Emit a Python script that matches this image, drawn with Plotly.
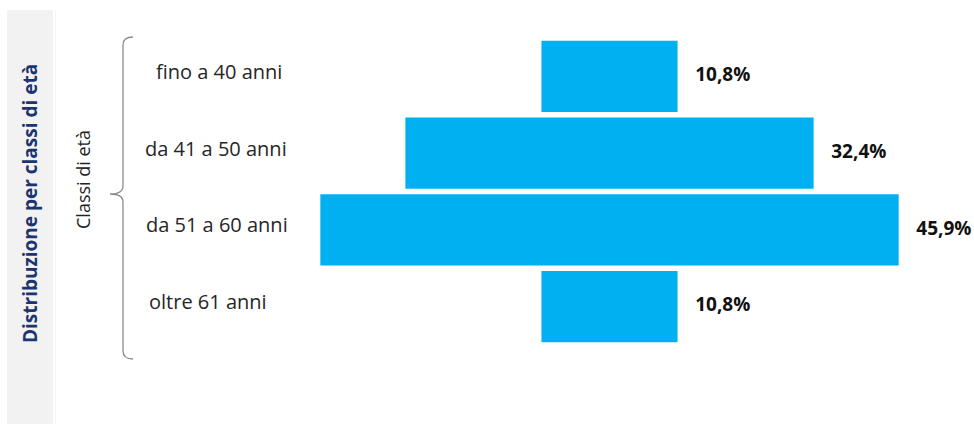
import plotly.graph_objects as go

categories = ["fino a 40 anni", "da 41 a 50 anni", "da 51 a 60 anni", "oltre 61 anni"]
values = [10.8, 32.4, 45.9, 10.8]
value_labels = ["10,8%", "32,4%", "45,9%", "10,8%"]
title_text = "Distribuzione per classi di età"
group_text = "Classi di età"

W, H = 974, 424
BAR = "#00B0F0"

def px(x):
    return x / W

def py(y):
    return 1 - y / H

fig = go.Figure()
fig.add_trace(go.Bar(
    y=categories, x=values, base=[-v / 2 for v in values], orientation="h",
    marker=dict(color=BAR, line=dict(width=0)), hoverinfo="skip", showlegend=False,
))
fig.add_trace(go.Scatter(
    y=categories, x=[v / 2 + 1.4 for v in values], mode="text",
    text=[f"<b>{t}</b>" for t in value_labels],
    textposition="middle right", cliponaxis=False,
    textfont=dict(family="Open Sans", size=19, color="#111111"),
    hoverinfo="skip", showlegend=False,
))

scale = 12.6  # px per percent
x0_px, x1_px, c_px = 300, 974, 609.5
fig.update_xaxes(domain=[px(x0_px), 1], range=[-(c_px - x0_px) / scale, (x1_px - c_px) / scale],
                 visible=False, fixedrange=True)
fig.update_yaxes(domain=[py(345), py(38)], categoryorder="array", categoryarray=categories[::-1],
                 range=[-0.5, 3.5], autorange=False, visible=False, fixedrange=True)

shapes = [
    dict(type="rect", xref="paper", yref="paper", x0=px(7), x1=px(53), y0=0, y1=py(10),
         fillcolor="#F2F2F2", line=dict(width=0), layer="below"),
    dict(type="line", xref="paper", yref="paper", x0=px(55.5), x1=px(55.5), y0=0, y1=py(10),
         line=dict(color="#F4F4F4", width=1), layer="below"),
]
# curly brace
bx, top, mid, bot = 123, 37, 194, 359
brace = (f"M {px(133)},{py(top)} Q {px(bx)},{py(top)} {px(bx)},{py(top+8)} "
         f"L {px(bx)},{py(mid-8)} Q {px(bx)},{py(mid)} {px(110)},{py(mid)} "
         f"Q {px(bx)},{py(mid)} {px(bx)},{py(mid+8)} "
         f"L {px(bx)},{py(bot-8)} Q {px(bx)},{py(bot)} {px(133)},{py(bot)}")
shapes.append(dict(type="path", xref="paper", yref="paper", path=brace,
                   line=dict(color="#8C8C8C", width=1.3)))

annotations = [
    dict(text=f"<b>{title_text}</b>", xref="paper", yref="paper", x=px(30), y=py(204),
         textangle=-90, showarrow=False, xanchor="center", yanchor="middle",
         font=dict(family="Open Sans", size=19, color="#1C3470")),
    dict(text=group_text, xref="paper", yref="paper", x=px(83), y=py(180),
         textangle=-90, showarrow=False, xanchor="center", yanchor="middle",
         font=dict(family="Open Sans", size=18, color="#222222")),
]
label_x = [219, 216, 217, 208]
for cat, lx in zip(categories, label_x):
    annotations.append(dict(text=cat, xref="paper", yref="y", x=px(lx), y=cat, yshift=5,
                            showarrow=False, xanchor="center", yanchor="middle",
                            font=dict(family="Open Sans", size=20, color="#262626")))

fig.update_layout(
    width=W, height=H, margin=dict(l=0, r=0, t=0, b=0),
    paper_bgcolor="white", plot_bgcolor="white", bargap=0.07,
    shapes=shapes, annotations=annotations,
)
fig.write_html("out.html", config={"displayModeBar": False, "staticPlot": True},
               post_script="document.body.style.margin='0';")
